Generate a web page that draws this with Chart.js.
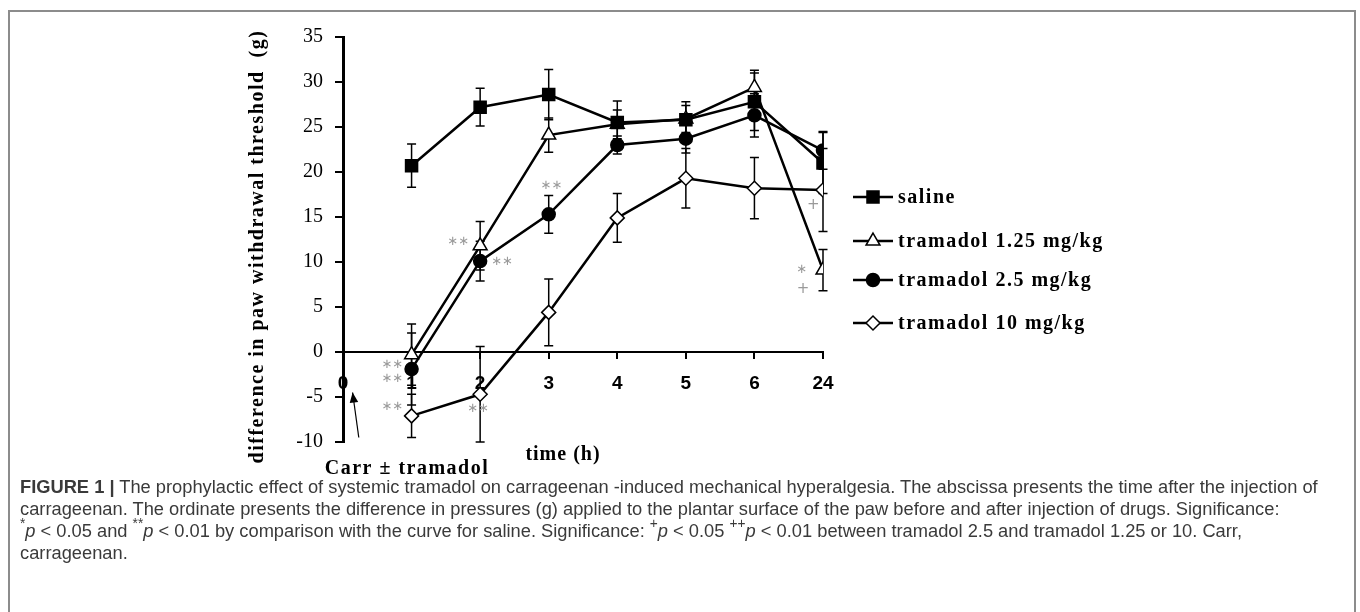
<!DOCTYPE html>
<html>
<head>
<meta charset="utf-8">
<script src="https://cdn.jsdelivr.net/npm/chart.js@4.4.1/dist/chart.umd.min.js"></script>
<style>
  html, body { margin: 0; padding: 0; background: #fff; }
  body { width: 1360px; height: 612px; position: relative; overflow: hidden; }
  #frame { position: absolute; left: 8px; top: 10px; width: 1348px; height: 640px; border: 2px solid #8c8c8c; box-sizing: border-box; }
  #chart { position: absolute; left: 0; top: 0; }
  #caption { position: absolute; left: 20px; top: 476px; font-family: "Liberation Sans", Arial, sans-serif; font-size: 18.3px; line-height: 22px; color: #3a3a3a; white-space: nowrap; }
  #caption sup { font-size: 0.75em; line-height: 0; position: relative; top: -0.15em; }
</style>
</head>
<body>
<div id="frame"></div>
<canvas id="chart" width="1360" height="520"></canvas>
<div id="caption">
<b>FIGURE 1 |</b> The prophylactic effect of systemic tramadol on carrageenan -induced mechanical hyperalgesia. The abscissa presents the time after the injection of<br>
carrageenan. The ordinate presents the difference in pressures (g) applied to the plantar surface of the paw before and after injection of drugs. Significance:<br>
<sup>*</sup><i>p</i> &lt; 0.05 and <sup>**</sup><i>p</i> &lt; 0.01 by comparison with the curve for saline. Significance: <sup>+</sup><i>p</i> &lt; 0.05 <sup>++</sup><i>p</i> &lt; 0.01 between tramadol 2.5 and tramadol 1.25 or 10. Carr,<br>
carrageenan.
</div>
<script>
// time points (h); index 0 is the injection
const timeLabels = ['0', '1', '2', '3', '4', '5', '6', '24'];
const seriesNames = ['saline', 'tramadol 1.25 mg/kg', 'tramadol 2.5 mg/kg', 'tramadol 10 mg/kg'];

// mean values at 1,2,3,4,5,6,24 h
const saline = [20.7, 27.2, 28.6, 25.5, 25.8, 27.8, 21.0];
const tram125 = [-0.3, 11.8, 24.1, 25.3, 25.9, 29.4, 9.1];
const tram25 = [-1.9, 10.1, 15.3, 23.0, 23.7, 26.3, 22.4];
const tram10 = [-7.1, -4.7, 4.4, 14.9, 19.3, 18.2, 18.0];

// SEM
const salineErr = [2.4, 2.1, 2.8, 2.4, 2.0, 3.2, 3.4];
const tram125Err = [3.4, 2.7, 1.9, 1.6, 1.5, 1.9, 2.3];
const tram25Err = [4.0, 2.2, 2.1, 1.0, 1.6, 2.4, 2.1];
const tram10Err = [2.4, 5.3, 3.7, 2.7, 3.3, 3.4, 4.6];

// significance marks, in axis units
const marks = [
    { x: 0.72, y: -1.4, text: '∗∗' },
    { x: 0.72, y: -3.0, text: '∗∗' },
    { x: 0.72, y: -6.1, text: '∗∗' },
    { x: 1.68, y: 12.3, text: '∗∗' },
    { x: 2.32, y: 10.0, text: '∗∗' },
    { x: 1.97, y: -6.3, text: '∗∗' },
    { x: 3.04, y: 18.5, text: '∗∗' },
    { x: 6.86, y: 16.3, text: '+' },
    { x: 6.69, y: 9.2, text: '∗' },
    { x: 6.71, y: 7.0, text: '+' }
];

function toPoints(values) {
    return values.map((v, i) => ({ x: i + 1, y: v }));
}

const serif = '"Liberation Serif", "Times New Roman", serif';

const errorBars = {
    id: 'errorBars',
    beforeDatasetsDraw(chart) {
        const ctx = chart.ctx;
        const xs = chart.scales.x, ys = chart.scales.y;
        ctx.save();
        ctx.strokeStyle = '#000';
        ctx.lineWidth = 1.5;
        chart.data.datasets.forEach(ds => {
            ds.data.forEach((p, i) => {
                const e = ds.errors[i];
                const px = xs.getPixelForValue(p.x);
                const top = ys.getPixelForValue(p.y + e);
                const bot = ys.getPixelForValue(p.y - e);
                ctx.beginPath();
                ctx.moveTo(px, top); ctx.lineTo(px, bot);
                ctx.moveTo(px - 4.5, top); ctx.lineTo(px + 4.5, top);
                ctx.moveTo(px - 4.5, bot); ctx.lineTo(px + 4.5, bot);
                ctx.stroke();
            });
        });
        ctx.restore();
    }
};

const extras = {
    id: 'extras',
    afterDatasetsDraw(chart) {
        const ctx = chart.ctx;
        const xs = chart.scales.x, ys = chart.scales.y;
        const area = chart.chartArea;
        ctx.save();

        // significance marks
        ctx.fillStyle = '#9a9a9a';
        ctx.textAlign = 'center';
        ctx.textBaseline = 'middle';
        marks.forEach(m => {
            ctx.font = m.text === '+' ? '15px "DejaVu Sans"' : '13px "DejaVu Sans"';
            ctx.fillText(m.text, xs.getPixelForValue(m.x), ys.getPixelForValue(m.y));
        });

        // injection arrow
        const ax0 = xs.getPixelForValue(0.23), ay0 = ys.getPixelForValue(-9.5);
        const ax1 = xs.getPixelForValue(0.14), ay1 = ys.getPixelForValue(-4.5);
        const ang = Math.atan2(ay1 - ay0, ax1 - ax0);
        ctx.strokeStyle = '#000';
        ctx.fillStyle = '#000';
        ctx.lineWidth = 1.2;
        ctx.beginPath();
        ctx.moveTo(ax0, ay0); ctx.lineTo(ax1, ay1);
        ctx.stroke();
        ctx.beginPath();
        ctx.moveTo(ax1, ay1);
        ctx.lineTo(ax1 - 11 * Math.cos(ang - 0.4), ay1 - 11 * Math.sin(ang - 0.4));
        ctx.lineTo(ax1 - 11 * Math.cos(ang + 0.4), ay1 - 11 * Math.sin(ang + 0.4));
        ctx.closePath();
        ctx.fill();

        // texts
        ctx.fillStyle = '#000';
        ctx.font = 'bold 20px ' + serif;
        ctx.letterSpacing = '1.5px';
        ctx.textAlign = 'center';
        ctx.fillText('Carr ± tramadol', area.left + 64, area.bottom + 27);
        ctx.letterSpacing = '1px';
        ctx.fillText('time (h)', area.left + 220, area.bottom + 13);
        ctx.letterSpacing = '1.5px';

        ctx.save();
        ctx.translate(area.left - 85, (area.top + area.bottom) / 2 + 7);
        ctx.rotate(-Math.PI / 2);
        ctx.fillText('difference in paw withdrawal threshold  (g)', 0, 0);
        ctx.restore();

        // legend
        const legendY = [197, 241, 280, 323];
        ctx.textAlign = 'left';
        chart.data.datasets.forEach((ds, i) => {
            const y = legendY[i];
            const x0 = area.right + 30, x1 = area.right + 70;
            ctx.strokeStyle = '#000';
            ctx.lineWidth = 2.5;
            ctx.beginPath();
            ctx.moveTo(x0, y); ctx.lineTo(x1, y);
            ctx.stroke();
            ctx.fillStyle = ds.pointBackgroundColor;
            ctx.lineWidth = ds.pointBorderWidth;
            Chart.helpers.drawPoint(ctx, {
                pointStyle: ds.pointStyle,
                radius: ds.pointRadius,
                rotation: 0,
                borderWidth: ds.pointBorderWidth
            }, (x0 + x1) / 2, y);
            ctx.fillStyle = '#000';
            ctx.fillText(ds.label, x1 + 5, y + 1);
        });

        ctx.restore();
    }
};

function series(label, values, errors, style, radius, fill) {
    return {
        label: label,
        data: toPoints(values),
        errors: errors,
        borderColor: '#000',
        borderWidth: 2.5,
        pointStyle: style,
        pointRadius: radius,
        pointBackgroundColor: fill,
        pointBorderColor: '#000',
        pointBorderWidth: 1.5,
        tension: 0
    };
}

new Chart(document.getElementById('chart'), {
    type: 'line',
    data: {
        datasets: [
            series(seriesNames[0], saline, salineErr, 'rect', 8.5, '#000'),
            series(seriesNames[1], tram125, tram125Err, 'triangle', 8, '#fff'),
            series(seriesNames[2], tram25, tram25Err, 'circle', 6.5, '#000'),
            series(seriesNames[3], tram10, tram10Err, 'rectRot', 7, '#fff')
        ]
    },
    options: {
        responsive: false,
        animation: false,
        events: [],
        layout: { padding: { left: 283, right: 537, top: 37, bottom: 78 } },
        plugins: { legend: { display: false }, title: { display: false }, tooltip: { enabled: false } },
        scales: {
            x: {
                type: 'linear',
                position: { y: 0 },
                min: 0,
                max: 7,
                afterFit(s) { s.paddingLeft = 0; s.paddingRight = 0; },
                border: { display: true, color: '#000', width: 2 },
                grid: { drawOnChartArea: false, drawTicks: true, tickLength: 6, color: '#000', lineWidth: 2 },
                ticks: {
                    stepSize: 1,
                    autoSkip: false,
                    maxRotation: 0,
                    padding: 14,
                    color: '#000',
                    font: { family: '"Liberation Sans", Arial, sans-serif', size: 19, weight: 'bold' },
                    callback: v => timeLabels[v]
                }
            },
            y: {
                min: -10,
                max: 35,
                afterFit(s) { s.width = 60; s.paddingTop = 0; s.paddingBottom = 0; },
                border: { display: true, color: '#000', width: 3 },
                grid: { drawOnChartArea: false, drawTicks: true, tickLength: 8, color: '#000', lineWidth: 2 },
                ticks: {
                    stepSize: 5,
                    padding: 12,
                    color: '#000',
                    font: { family: serif, size: 20 }
                }
            }
        }
    },
    plugins: [errorBars, extras]
});
</script>
</body>
</html>
